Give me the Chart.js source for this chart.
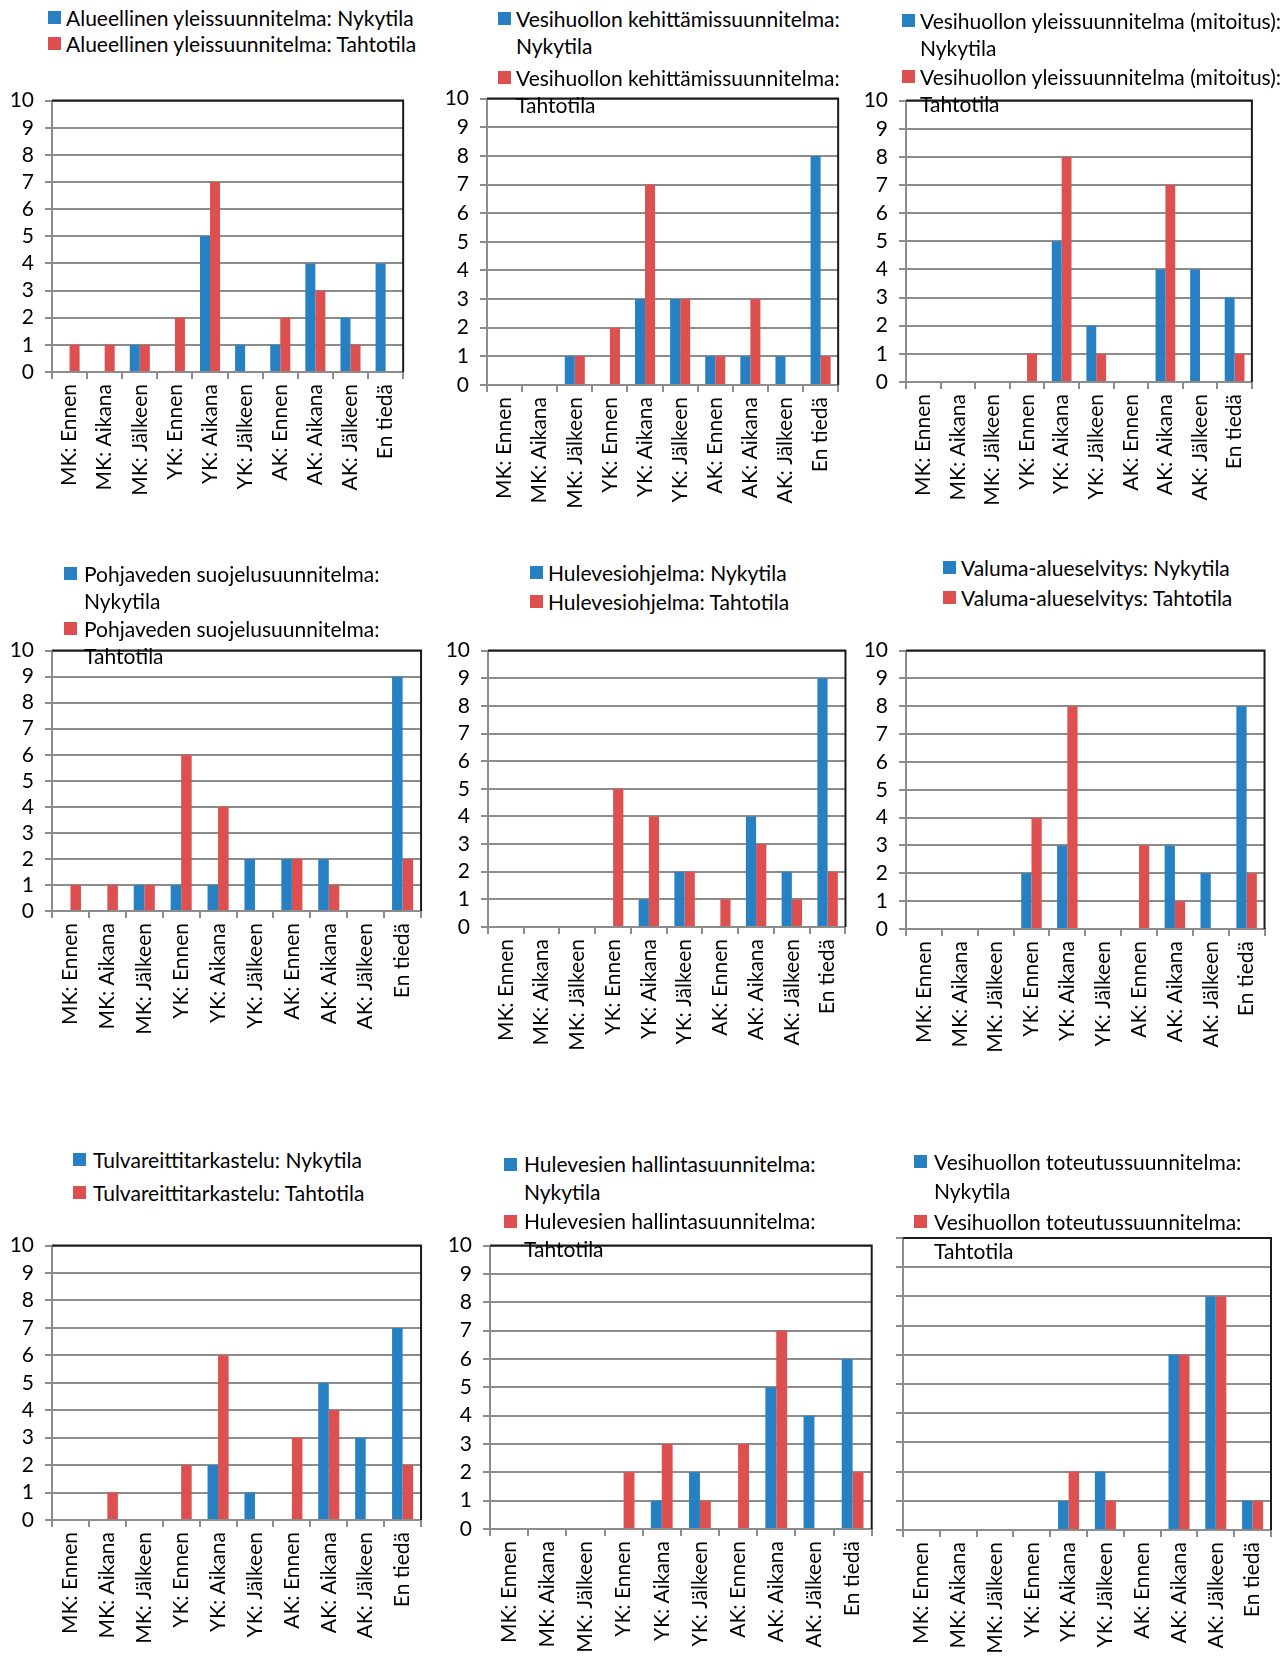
<!DOCTYPE html>
<html><head><meta charset="utf-8">
<script src="https://cdn.jsdelivr.net/npm/chart.js@4/dist/chart.umd.min.js"></script>
<style>
html,body{margin:0;padding:0;background:#fff;width:1288px;height:1662px;overflow:hidden;position:relative;font-family:Lato,'Open Sans',sans-serif;}
canvas{position:absolute;}
.lg{position:absolute;font-size:21px;color:#000;white-space:nowrap;z-index:2;}
.sq{position:absolute;width:13px;height:13px;z-index:2;}
</style></head><body>
<script>
// ---- data ----
const categories = ['MK: Ennen','MK: Aikana','MK: Jälkeen','YK: Ennen','YK: Aikana','YK: Jälkeen','AK: Ennen','AK: Aikana','AK: Jälkeen','En tiedä'];
const stateLabels = ['Nykytila','Tahtotila'];
const planNames = ['Alueellinen yleissuunnitelma','Vesihuollon kehittämissuunnitelma','Vesihuollon yleissuunnitelma (mitoitus)','Pohjaveden suojelusuunnitelma','Hulevesiohjelma','Valuma-alueselvitys','Tulvareittitarkastelu','Hulevesien hallintasuunnitelma','Vesihuollon toteutussuunnitelma'];

const alueellinenNyky   = [0,0,1,0,5,1,1,4,2,4];
const alueellinenTahto  = [1,1,1,2,7,0,2,3,1,0];
const kehittamisNyky    = [0,0,1,0,3,3,1,1,1,8];
const kehittamisTahto   = [0,0,1,2,7,3,1,3,0,1];
const mitoitusNyky      = [0,0,0,0,5,2,0,4,4,3];
const mitoitusTahto     = [0,0,0,1,8,1,0,7,0,1];
const pohjavesiNyky     = [0,0,1,1,1,2,2,2,0,9];
const pohjavesiTahto    = [1,1,1,6,4,0,2,1,0,2];
const hulevesiohjNyky   = [0,0,0,0,1,2,0,4,2,9];
const hulevesiohjTahto  = [0,0,0,5,4,2,1,3,1,2];
const valumaNyky        = [0,0,0,2,3,0,0,3,2,8];
const valumaTahto       = [0,0,0,4,8,0,3,1,0,2];
const tulvaNyky         = [0,0,0,0,2,1,0,5,3,7];
const tulvaTahto        = [0,1,0,2,6,0,3,4,0,2];
const hallintaNyky      = [0,0,0,0,1,2,0,5,4,6];
const hallintaTahto     = [0,0,0,2,3,1,3,7,0,2];
const toteutusNyky      = [0,0,0,0,1,2,0,6,8,1];
const toteutusTahto     = [0,0,0,0,2,1,0,6,8,1];

const seriesNyky  = [alueellinenNyky,kehittamisNyky,mitoitusNyky,pohjavesiNyky,hulevesiohjNyky,valumaNyky,tulvaNyky,hallintaNyky,toteutusNyky];
const seriesTahto = [alueellinenTahto,kehittamisTahto,mitoitusTahto,pohjavesiTahto,hulevesiohjTahto,valumaTahto,tulvaTahto,hallintaTahto,toteutusTahto];

// ---- layout (plot area L,T,R,B; legend square x, text x, entry centers, line height, wrap, y labels) ----
const layouts = [
 {L:52, T:93,  R:412, B:372, sq:48,  tx:66,  ent:[17,43],     lh:27, wrap:false, ylab:true},
 {L:487,T:91,  R:847, B:385, sq:498, tx:516, ent:[18,77],     lh:27, wrap:true,  ylab:true},
 {L:906,T:93,  R:1261,B:382, sq:902, tx:920, ent:[20,76],     lh:27, wrap:true,  ylab:true},
 {L:52, T:643, R:429, B:911, sq:64,  tx:84,  ent:[573,628],   lh:27, wrap:true,  ylab:true},
 {L:488,T:643, R:854, B:927, sq:530, tx:548, ent:[572,601],   lh:27, wrap:false, ylab:true},
 {L:906,T:643, R:1273,B:929, sq:943, tx:961, ent:[567,597],   lh:27, wrap:false, ylab:true},
 {L:52, T:1238,R:429, B:1520,sq:73,  tx:93,  ent:[1159,1192], lh:27, wrap:false, ylab:true},
 {L:490,T:1238,R:879, B:1529,sq:504, tx:524, ent:[1164,1221], lh:28, wrap:true,  ylab:true},
 {L:903,T:1238,R:1279,B:1530,sq:914, tx:934, ent:[1161,1221], lh:29, wrap:true,  ylab:false}
];

const BLUE='#2680C2', RED='#DE5050', GRID='#8C8C8C', FRAME='#1A1A1A';
const YW=50, PT=16, PR=4, XH=140;

const framePlugin = {
  id:'frame',
  beforeDatasetsDraw(chart){
    const a=chart.chartArea, c=chart.ctx;
    c.save(); c.strokeStyle=FRAME; c.lineWidth=2;
    c.beginPath(); c.moveTo(a.left, a.top); c.lineTo(a.right, a.top); c.lineTo(a.right, a.bottom); c.stroke();
    c.restore();
  }
};

function build(){
  Chart.defaults.font.family = "Lato, 'Open Sans', sans-serif";
  Chart.defaults.font.size = 21;
  Chart.defaults.color = '#000';
  planNames.forEach((name,i)=>{
    const g = layouts[i];
    const cv = document.createElement('canvas');
    const w = (g.R-g.L)+YW+PR, h = PT+(g.B-g.T)+XH;
    cv.width=w; cv.height=h;
    cv.style.left=(g.L-YW)+'px'; cv.style.top=(g.T-PT)+'px';
    cv.style.width=w+'px'; cv.style.height=h+'px';
    document.body.appendChild(cv);
    const labels=[name+': '+stateLabels[0], name+': '+stateLabels[1]];
    new Chart(cv,{
      type:'bar',
      data:{labels:categories, datasets:[
        {label:labels[0], data:seriesNyky[i], backgroundColor:BLUE, borderWidth:0, categoryPercentage:0.571, barPercentage:1},
        {label:labels[1], data:seriesTahto[i], backgroundColor:RED, borderWidth:0, categoryPercentage:0.571, barPercentage:1}
      ]},
      options:{
        responsive:false, animation:false, devicePixelRatio:1,
        layout:{padding:{top:PT,right:PR,left:0,bottom:0}},
        plugins:{legend:{display:false}, tooltip:{enabled:false}},
        scales:{
          x:{offset:true,
             grid:{offset:true, drawOnChartArea:false, drawTicks:true, tickLength:7, color:GRID, lineWidth:2},
             border:{color:GRID, width:2},
             ticks:{minRotation:90, maxRotation:90, autoSkip:false, padding:5, color:'#000', font:{size:21}},
             afterFit:s=>{s.height=XH;}},
          y:{min:0, max:10,
             ticks:{stepSize:1, autoSkip:false, padding:11, display:g.ylab, color:'#000', font:{size:21}},
             grid:{color:GRID, lineWidth:2, tickLength:7, drawTicks:true},
             border:{color:GRID, width:2},
             afterFit:s=>{s.width=YW;}}
        }
      },
      plugins:[framePlugin]
    });
    // HTML legend
    [BLUE,RED].forEach((col,k)=>{
      const cy=g.ent[k];
      const sq=document.createElement('div'); sq.className='sq';
      sq.style.background=col; sq.style.left=g.sq+'px'; sq.style.top=(cy-6.5)+'px';
      document.body.appendChild(sq);
      const d=document.createElement('div'); d.className='lg';
      d.style.left=g.tx+'px'; d.style.top=(cy-g.lh/2)+'px'; d.style.lineHeight=g.lh+'px';
      if(g.wrap){
        d.appendChild(document.createTextNode(name+':'));
        d.appendChild(document.createElement('br'));
        d.appendChild(document.createTextNode(stateLabels[k]));
      } else {
        d.textContent=labels[k];
      }
      document.body.appendChild(d);
    });
  });
}
if(document.fonts && document.fonts.load){
  document.fonts.load("21px Lato").then(build, build);
} else build();
</script>
</body></html>
